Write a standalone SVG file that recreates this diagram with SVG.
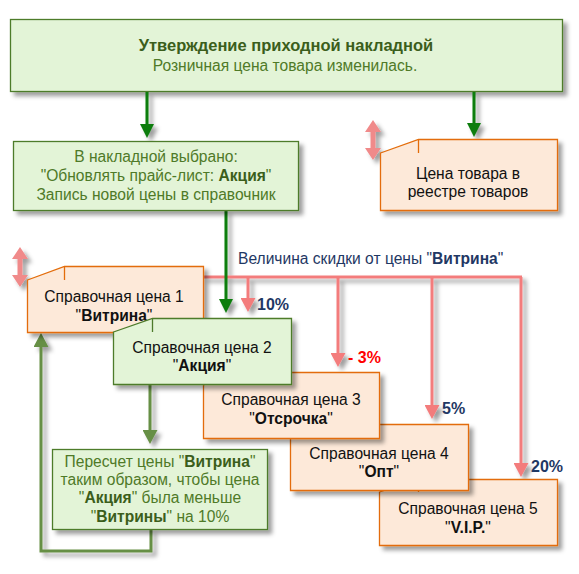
<svg xmlns="http://www.w3.org/2000/svg" width="579" height="574" viewBox="0 0 579 574">
<defs>
<filter id="sh" x="-20%" y="-20%" width="140%" height="140%">
<feDropShadow dx="4" dy="4" stdDeviation="2.2" flood-color="#000" flood-opacity="0.38"/>
</filter>
<marker id="hg" viewBox="0 0 14 14" refX="6" refY="7" markerWidth="14" markerHeight="14" markerUnits="userSpaceOnUse" orient="auto"><path d="M0,0 L14,7 L0,14 z" fill="#0a7d0a"/></marker>
<marker id="hr" viewBox="0 0 14 15" refX="6" refY="7.5" markerWidth="14" markerHeight="15" markerUnits="userSpaceOnUse" orient="auto"><path d="M0,0 L14,7.5 L0,15 z" fill="#f37c7c"/></marker>
<marker id="ho" viewBox="0 0 14 15" refX="6" refY="7.5" markerWidth="14" markerHeight="15" markerUnits="userSpaceOnUse" orient="auto"><path d="M0,0 L14,7.5 L0,15 z" fill="#668f45"/></marker>
</defs>
<style>
text{font-family:"Liberation Sans",Arial,sans-serif;font-size:15.6px;text-anchor:middle}
.gb{fill:#e3f4d7;stroke:#4d7b2a;stroke-width:1.3}
.pb{fill:#fde9d9;stroke:#e36c0a;stroke-width:1.3}
.gt{fill:#4f7a28}
.gd{fill:#3b5e1b;font-weight:bold}
.bt{fill:#111}
.b{font-weight:bold}
.nv{fill:#1f3864}
.g{stroke:#0a7d0a;stroke-width:3;fill:none}
.r{stroke:#f37c7c;stroke-width:3;fill:none}
.o{stroke:#668f45;stroke-width:3;fill:none}
.dbl{fill:#f08a8a}
.lbl{font-weight:bold;text-anchor:start;font-size:16px}
</style>

<g id="top">
<rect class="gb" x="10.5" y="19.5" width="552" height="72" filter="url(#sh)"/>
<text x="286" y="51" class="gd" style="font-size:16.5px">Утверждение приходной накладной</text>
<text x="285" y="71" class="gt">Розничная цена товара изменилась.</text>
</g>

<g id="connectors">
<g filter="url(#sh)">
<line class="g" x1="147" y1="92" x2="147" y2="130" marker-end="url(#hg)"/>
<line class="g" x1="474" y1="92" x2="474" y2="129" marker-end="url(#hg)"/>
<path class="dbl" d="M373,120 L381,132 L375.5,132 L375.5,148 L381,148 L373,160 L365,148 L370.5,148 L370.5,132 L365,132 z"/>
<path class="dbl" d="M20,247 L28,259 L22.5,259 L22.5,275 L28,275 L20,287 L12,275 L17.5,275 L17.5,259 L12,259 z"/>
<path class="r" d="M203,277 L522,277"/>
<line class="r" x1="248" y1="277" x2="248" y2="304" marker-end="url(#hr)"/>
<line class="r" x1="338" y1="277" x2="338" y2="359" marker-end="url(#hr)"/>
<line class="r" x1="432" y1="277" x2="432" y2="411" marker-end="url(#hr)"/>
<line class="r" x1="521" y1="277" x2="521" y2="469" marker-end="url(#hr)"/>
<line class="g" x1="226" y1="210" x2="226" y2="305" marker-end="url(#hg)"/>
<line class="o" x1="150" y1="384" x2="150" y2="436" marker-end="url(#ho)"/>
<path class="o" d="M151,529 L151,551 L41,551 L41,341" marker-end="url(#ho)"/>
</g>
</g>

<g id="choice">
<rect class="gb" x="13.5" y="141.5" width="285" height="69" filter="url(#sh)"/>
<text x="156" y="162" class="gt">В накладной выбрано:</text>
<text x="156" y="181" class="gt">"Обновлять прайс-лист: <tspan class="gd">Акция</tspan>"</text>
<text x="156" y="200" class="gt">Запись новой цены в справочник</text>
</g>

<g id="registry">
<path class="pb" d="M380.5,153 L418.5,139.5 L557.5,139.5 L557.5,210.5 L380.5,210.5 z" filter="url(#sh)"/>
<path d="M418.5,139.5 L418.5,153" stroke="#e36c0a" stroke-width="1.3" fill="none"/>
<text x="468" y="179" class="bt">Цена товара в</text>
<text x="468" y="197" class="bt">реестре товаров</text>
</g>

<text x="238" y="264" class="nv" style="text-anchor:start">Величина скидки от цены "<tspan class="b">Витрина</tspan>"</text>
<text x="257" y="310" class="nv lbl">10%</text>
<text x="348" y="363" class="lbl" fill="#ff0000">- 3%</text>
<text x="442" y="414" class="nv lbl">5%</text>
<text x="531" y="472" class="nv lbl">20%</text>

<g id="price5">
<path class="pb" d="M379.5,492 L418.5,479.5 L557.5,479.5 L557.5,545.5 L379.5,545.5 z" filter="url(#sh)"/>
<path d="M418.5,479.5 L418.5,492" stroke="#e36c0a" stroke-width="1.3" fill="none"/>
<text x="468" y="514" class="bt">Справочная цена 5</text>
<text x="468" y="533" class="bt">"<tspan class="b">V.I.P.</tspan>"</text>
</g>

<g id="price4">
<path class="pb" d="M290.5,437 L328.5,424.5 L468.5,424.5 L468.5,490.5 L290.5,490.5 z" filter="url(#sh)"/>
<path d="M328.5,424.5 L328.5,437" stroke="#e36c0a" stroke-width="1.3" fill="none"/>
<text x="379" y="459" class="bt">Справочная цена 4</text>
<text x="379" y="477" class="bt">"<tspan class="b">Опт</tspan>"</text>
</g>

<g id="price3">
<path class="pb" d="M203.5,385 L242.5,372.5 L379.5,372.5 L379.5,438.5 L203.5,438.5 z" filter="url(#sh)"/>
<text x="291" y="405" class="bt">Справочная цена 3</text>
<text x="291" y="424" class="bt">"<tspan class="b">Отсрочка</tspan>"</text>
</g>

<g id="price1">
<path class="pb" d="M27.5,280 L64.5,266.5 L203.5,266.5 L203.5,332.5 L27.5,332.5 z" filter="url(#sh)"/>
<path d="M64.5,266.5 L64.5,280" stroke="#e36c0a" stroke-width="1.3" fill="none"/>
<text x="114" y="302" class="bt">Справочная цена 1</text>
<text x="114" y="321" class="bt">"<tspan class="b">Витрина</tspan>"</text>
</g>

<g id="price2">
<path class="gb" d="M113.5,332 L152.5,318.5 L291.5,318.5 L291.5,384.5 L113.5,384.5 z" filter="url(#sh)"/>
<path d="M152.5,318.5 L152.5,332" stroke="#4d7b2a" stroke-width="1.3" fill="none"/>
<text x="202" y="353" class="bt">Справочная цена 2</text>
<text x="202" y="371" class="bt">"<tspan class="b">Акция</tspan>"</text>
</g>

<g id="recalc">
<rect class="gb" x="52.5" y="449.5" width="215" height="80" filter="url(#sh)"/>
<text x="160" y="467" class="gt">Пересчет цены "<tspan class="gd">Витрина</tspan>"</text>
<text x="160" y="485" class="gt">таким образом, чтобы цена</text>
<text x="160" y="503" class="gt">"<tspan class="gd">Акция</tspan>" была меньше</text>
<text x="160" y="522" class="gt">"<tspan class="gd">Витрины</tspan>" на 10%</text>
</g>
</svg>
